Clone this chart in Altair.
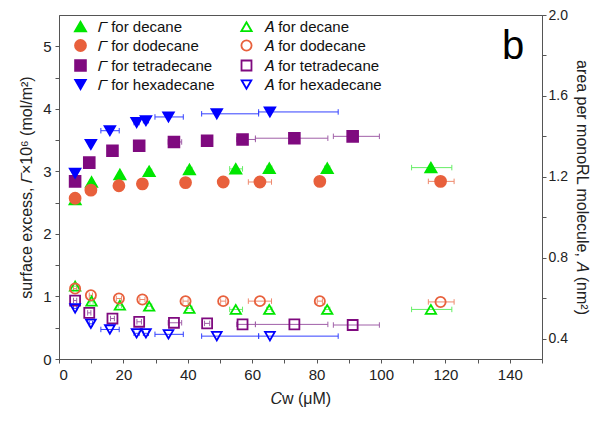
import altair as alt
import pandas as pd

# ---------------- data ----------------
fluids = ["decane", "dodecane", "tetradecane", "hexadecane"]

decane_x = [5.0, 10.1, 18.9, 28.0, 40.5, 54.9, 65.3, 83.3, 115.5]
decane_G = [2.55, 2.83, 2.95, 3.00, 3.03, 3.04, 3.05, 3.05, 3.06]
decane_A = [0.66, 0.586, 0.566, 0.561, 0.550, 0.545, 0.545, 0.545, 0.545]
decane_lo = [4.5, 9.6, 18.4, 27.2, 39.7, 53.0, 64.5, 82.5, 109.5]
decane_hi = [5.5, 10.6, 19.4, 28.8, 41.3, 57.0, 66.1, 84.1, 122.0]

dodecane_x = [5.0, 9.9, 18.6, 25.9, 39.3, 51.0, 62.4, 81.0, 118.5]
dodecane_G = [2.57, 2.70, 2.77, 2.80, 2.82, 2.83, 2.83, 2.84, 2.84]
dodecane_A = [0.648, 0.615, 0.599, 0.594, 0.586, 0.586, 0.586, 0.586, 0.582]
dodecane_lo = [4.5, 9.4, 17.8, 25.1, 38.5, 50.2, 58.8, 80.2, 114.7]
dodecane_hi = [5.5, 10.4, 19.4, 26.7, 40.1, 51.8, 66.0, 81.8, 122.7]

tetradecane_x = [5.0, 9.4, 16.6, 24.9, 35.7, 46.0, 57.0, 73.1, 91.2]
tetradecane_G = [2.84, 3.14, 3.33, 3.41, 3.47, 3.49, 3.51, 3.53, 3.56]
tetradecane_A = [0.589, 0.528, 0.500, 0.484, 0.479, 0.476, 0.471, 0.471, 0.468]
tetradecane_lo = [4.5, 8.9, 16.0, 24.2, 33.9, 45.2, 55.2, 61.0, 85.2]
tetradecane_hi = [5.5, 9.9, 17.2, 25.6, 38.1, 46.8, 61.0, 83.5, 99.5]

hexadecane_x = [5.0, 9.9, 15.8, 24.1, 27.0, 34.0, 49.0, 65.5]
hexadecane_G = [2.97, 3.43, 3.65, 3.78, 3.81, 3.87, 3.92, 3.95]
hexadecane_A = [0.550, 0.474, 0.446, 0.427, 0.427, 0.422, 0.413, 0.413]
hexadecane_lo = [4.5, 9.4, 13.0, 23.3, 26.2, 29.8, 44.3, 62.0]
hexadecane_hi = [5.5, 10.4, 18.7, 24.9, 27.8, 38.6, 62.0, 86.7]

panel_label = ["b"]
panel_x = [141.0]
panel_y = [4.80]

# ---------------- styling ----------------
GAM = "\U0001D6E4"
AIT = "\U0001D434"
CIT = "\U0001D436"
colors = {"decane": "#00E600", "dodecane": "#E8603C", "tetradecane": "#7F0A7F", "hexadecane": "#0000FF"}
err_colors = {"decane": "#66EE66", "dodecane": "#EE8A6E", "tetradecane": "#A060A8", "hexadecane": "#3340FF"}
shapes = {"decane": "triangle-up", "dodecane": "circle", "tetradecane": "square", "hexadecane": "triangle-down"}
sizes_G = {"decane": 125, "dodecane": 95, "tetradecane": 60, "hexadecane": 125}
sizes_A = {"decane": 170, "dodecane": 95, "tetradecane": 50, "hexadecane": 160}
FONT = "Liberation Sans"

series_data = {
    "decane": (decane_x, decane_G, decane_A, decane_lo, decane_hi),
    "dodecane": (dodecane_x, dodecane_G, dodecane_A, dodecane_lo, dodecane_hi),
    "tetradecane": (tetradecane_x, tetradecane_G, tetradecane_A, tetradecane_lo, tetradecane_hi),
    "hexadecane": (hexadecane_x, hexadecane_G, hexadecane_A, hexadecane_lo, hexadecane_hi),
}

rows = []
for f in fluids:
    xs, gs, As, lo, hi = series_data[f]
    for i in range(len(xs)):
        rows.append(dict(series=f"{GAM} for {f}", kind="G", x=xs[i], y=gs[i], lo=lo[i], hi=hi[i], ecol=err_colors[f]))
        rows.append(dict(series=f"{AIT} for {f}", kind="A", x=xs[i], y=As[i], lo=lo[i], hi=hi[i], ecol=err_colors[f]))
df = pd.DataFrame(rows)

# legend entries are laid out column by column: all Γ first, then all A
order, stroke_r, fill_r, shape_r, size_r = [], [], [], [], []
for f in fluids:
    order.append(f"{GAM} for {f}")
    stroke_r.append(colors[f]); fill_r.append(colors[f])
    shape_r.append(shapes[f]); size_r.append(sizes_G[f])
for f in fluids:
    order.append(f"{AIT} for {f}")
    stroke_r.append(colors[f]); fill_r.append("transparent")
    shape_r.append(shapes[f]); size_r.append(sizes_A[f])

legend = alt.Legend(title=None, orient="none", legendX=14, legendY=4, columns=2,
                    labelFont=FONT, labelFontSize=15, labelColor="#111",
                    symbolStrokeWidth=1.8, rowPadding=1, columnPadding=22,
                    labelOffset=10, labelLimit=400, padding=0)

X_TITLE = f"{CIT}w (μM)"
x_enc_axis = alt.Axis(values=list(range(0, 151, 10)),
                      labelExpr="datum.value % 20 == 0 ? datum.label : ''",
                      title=X_TITLE, grid=False, titlePadding=8)
x_scale = alt.Scale(domain=[0, 150], nice=False, padding=0)

L_TITLE = f"surface excess, {GAM}×10⁶ (mol/m²)"
R_TITLE = f"area per monoRL molecule, {AIT} (nm²)"
left_axis = alt.Axis(orient="left", values=[i * 0.5 for i in range(11)],
                     labelExpr="datum.value % 1 == 0 ? format(datum.value, 'd') : ''",
                     title=L_TITLE, grid=False, titlePadding=8)
left_scale = alt.Scale(domain=[0, 5.5], nice=False, zero=False, padding=0)
right_axis = alt.Axis(orient="right", values=[round(0.4 + 0.2 * i, 1) for i in range(9)],
                      labelExpr="round(datum.value * 10) % 4 == 0 ? format(datum.value, '.1f') : ''",
                      title=R_TITLE, grid=False, titlePadding=6, labelPadding=2, labelFontSize=14)
right_scale = alt.Scale(domain=[0.3, 2.0], nice=False, zero=False, padding=0)


def group(kind, yaxis, yscale):
    base = alt.Chart(df).transform_filter(alt.datum.kind == kind)
    y = alt.Y("y:Q", scale=yscale, axis=yaxis)
    rules = base.mark_rule(strokeWidth=1).encode(
        x=alt.X("lo:Q", scale=x_scale, axis=x_enc_axis, title=X_TITLE),
        x2="hi:Q", y=y, color=alt.Color("ecol:N", scale=None))
    cap_lo = base.mark_point(shape="M0,-1L0,1", size=30, strokeWidth=1, opacity=1).encode(
        x=alt.X("lo:Q", scale=x_scale, axis=x_enc_axis, title=X_TITLE), y=y,
        color=alt.Color("ecol:N", scale=None))
    cap_hi = base.mark_point(shape="M0,-1L0,1", size=30, strokeWidth=1, opacity=1).encode(
        x=alt.X("hi:Q", scale=x_scale, axis=x_enc_axis, title=X_TITLE), y=y,
        color=alt.Color("ecol:N", scale=None))
    pts = base.mark_point(opacity=1, strokeWidth=1.8).encode(
        x=alt.X("x:Q", scale=x_scale, axis=x_enc_axis, title=X_TITLE), y=y,
        stroke=alt.Stroke("series:N", scale=alt.Scale(domain=order, range=stroke_r), legend=legend),
        fill=alt.Fill("series:N", scale=alt.Scale(domain=order, range=fill_r), legend=legend),
        shape=alt.Shape("series:N", scale=alt.Scale(domain=order, range=shape_r), legend=legend),
        size=alt.Size("series:N", scale=alt.Scale(domain=order, range=size_r), legend=legend),
    )
    return [rules, cap_lo, cap_hi, pts]


label_df = pd.DataFrame({"x": panel_x, "y": panel_y, "t": panel_label})
label = alt.Chart(label_df).mark_text(font=FONT, fontSize=40, align="center",
                                      baseline="alphabetic", color="#000").encode(
    x=alt.X("x:Q", scale=x_scale, axis=x_enc_axis, title=X_TITLE),
    y=alt.Y("y:Q", scale=left_scale, axis=left_axis),
    text="t:N")

left = alt.layer(*group("G", left_axis, left_scale), label)
right = alt.layer(*group("A", right_axis, right_scale))

chart = alt.layer(left, right).resolve_scale(y="independent").properties(
    width=483, height=344,
    autosize=alt.AutoSizeParams(type="none"),
    padding={"left": 51, "top": 7, "right": 51, "bottom": 54},
).configure_view(stroke="#555", strokeWidth=1).configure_axis(
    domainColor="#555", tickColor="#555", tickSize=4, labelColor="#222", titleColor="#222",
    labelFont=FONT, titleFont=FONT, labelFontSize=15, titleFontSize=16,
    titleFontWeight="normal", labelPadding=4,
)

chart.save("out.html", embed_options={"renderer": "svg", "actions": False})
